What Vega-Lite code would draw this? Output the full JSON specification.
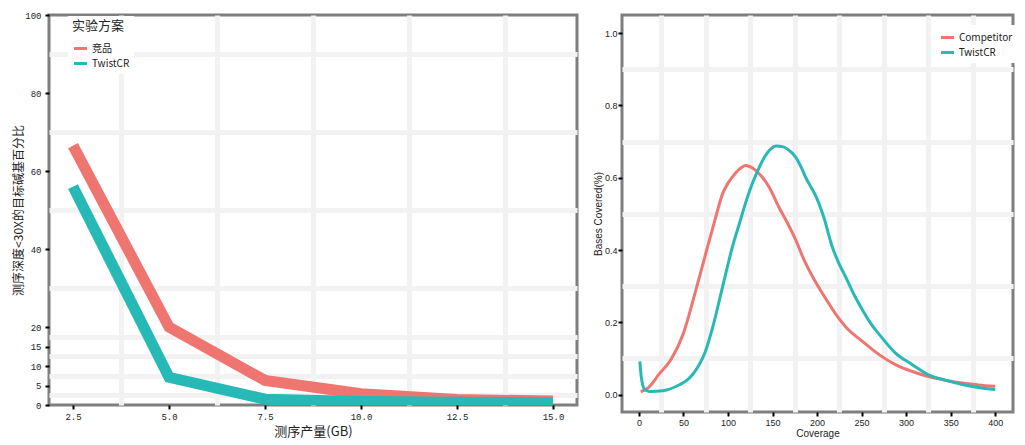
{
  "$schema": "https://vega.github.io/schema/vega-lite/v6.json",
  "padding": {"left": 10, "top": 9, "right": 5, "bottom": 5},
  "spacing": 12,
  "background": "white",
  "resolve": {"scale": {"color": "independent"}},
  "config": {
    "view": {"stroke": "#7f7f7f", "strokeWidth": 3},
    "axis": {"domain": false, "tickColor": "#000000", "tickSize": 4, "tickWidth": 2, "gridColor": "#d9d9d9", "gridWidth": 1, "labelColor": "#222222", "titleColor": "#222222", "titleFontWeight": "normal"}
  },
  "datasets": {
    "yield": [
      {"gb": 2.5, "pct": 66.5, "group": "竞品"},
      {"gb": 5.0, "pct": 20.0, "group": "竞品"},
      {"gb": 7.5, "pct": 6.3, "group": "竞品"},
      {"gb": 10.0, "pct": 2.9, "group": "竞品"},
      {"gb": 12.5, "pct": 1.4, "group": "竞品"},
      {"gb": 15.0, "pct": 1.0, "group": "竞品"},
      {"gb": 2.5, "pct": 56.0, "group": "TwistCR"},
      {"gb": 5.0, "pct": 7.1, "group": "TwistCR"},
      {"gb": 7.5, "pct": 1.5, "group": "TwistCR"},
      {"gb": 10.0, "pct": 0.9, "group": "TwistCR"},
      {"gb": 12.5, "pct": 0.7, "group": "TwistCR"},
      {"gb": 15.0, "pct": 0.6, "group": "TwistCR"}
    ],
    "coverage": [
      {"cov": 2, "frac": 0.008, "kit": "Competitor"},
      {"cov": 10, "frac": 0.018, "kit": "Competitor"},
      {"cov": 23, "frac": 0.058, "kit": "Competitor"},
      {"cov": 36, "frac": 0.097, "kit": "Competitor"},
      {"cov": 50, "frac": 0.17, "kit": "Competitor"},
      {"cov": 64, "frac": 0.29, "kit": "Competitor"},
      {"cov": 75, "frac": 0.39, "kit": "Competitor"},
      {"cov": 85, "frac": 0.48, "kit": "Competitor"},
      {"cov": 94, "frac": 0.556, "kit": "Competitor"},
      {"cov": 100, "frac": 0.585, "kit": "Competitor"},
      {"cov": 105, "frac": 0.602, "kit": "Competitor"},
      {"cov": 112, "frac": 0.622, "kit": "Competitor"},
      {"cov": 120, "frac": 0.634, "kit": "Competitor"},
      {"cov": 128, "frac": 0.626, "kit": "Competitor"},
      {"cov": 135, "frac": 0.611, "kit": "Competitor"},
      {"cov": 146, "frac": 0.575, "kit": "Competitor"},
      {"cov": 157, "frac": 0.519, "kit": "Competitor"},
      {"cov": 165, "frac": 0.483, "kit": "Competitor"},
      {"cov": 176, "frac": 0.428, "kit": "Competitor"},
      {"cov": 185, "frac": 0.375, "kit": "Competitor"},
      {"cov": 195, "frac": 0.326, "kit": "Competitor"},
      {"cov": 204, "frac": 0.288, "kit": "Competitor"},
      {"cov": 213, "frac": 0.253, "kit": "Competitor"},
      {"cov": 222, "frac": 0.219, "kit": "Competitor"},
      {"cov": 232, "frac": 0.188, "kit": "Competitor"},
      {"cov": 251, "frac": 0.147, "kit": "Competitor"},
      {"cov": 270, "frac": 0.11, "kit": "Competitor"},
      {"cov": 288, "frac": 0.083, "kit": "Competitor"},
      {"cov": 307, "frac": 0.064, "kit": "Competitor"},
      {"cov": 325, "frac": 0.05, "kit": "Competitor"},
      {"cov": 344, "frac": 0.04, "kit": "Competitor"},
      {"cov": 363, "frac": 0.032, "kit": "Competitor"},
      {"cov": 381, "frac": 0.027, "kit": "Competitor"},
      {"cov": 400, "frac": 0.023, "kit": "Competitor"},
      {"cov": 1, "frac": 0.092, "kit": "TwistCR"},
      {"cov": 2.6, "frac": 0.05, "kit": "TwistCR"},
      {"cov": 6.4, "frac": 0.014, "kit": "TwistCR"},
      {"cov": 12, "frac": 0.009, "kit": "TwistCR"},
      {"cov": 27, "frac": 0.011, "kit": "TwistCR"},
      {"cov": 46, "frac": 0.028, "kit": "TwistCR"},
      {"cov": 54, "frac": 0.04, "kit": "TwistCR"},
      {"cov": 60, "frac": 0.055, "kit": "TwistCR"},
      {"cov": 67, "frac": 0.08, "kit": "TwistCR"},
      {"cov": 74, "frac": 0.115, "kit": "TwistCR"},
      {"cov": 83, "frac": 0.188, "kit": "TwistCR"},
      {"cov": 94, "frac": 0.299, "kit": "TwistCR"},
      {"cov": 105, "frac": 0.409, "kit": "TwistCR"},
      {"cov": 114, "frac": 0.483, "kit": "TwistCR"},
      {"cov": 121, "frac": 0.54, "kit": "TwistCR"},
      {"cov": 128, "frac": 0.588, "kit": "TwistCR"},
      {"cov": 135, "frac": 0.628, "kit": "TwistCR"},
      {"cov": 141, "frac": 0.657, "kit": "TwistCR"},
      {"cov": 148, "frac": 0.68, "kit": "TwistCR"},
      {"cov": 154, "frac": 0.688, "kit": "TwistCR"},
      {"cov": 161, "frac": 0.686, "kit": "TwistCR"},
      {"cov": 167, "frac": 0.679, "kit": "TwistCR"},
      {"cov": 176, "frac": 0.657, "kit": "TwistCR"},
      {"cov": 182, "frac": 0.63, "kit": "TwistCR"},
      {"cov": 187, "frac": 0.602, "kit": "TwistCR"},
      {"cov": 193, "frac": 0.575, "kit": "TwistCR"},
      {"cov": 199, "frac": 0.547, "kit": "TwistCR"},
      {"cov": 208, "frac": 0.487, "kit": "TwistCR"},
      {"cov": 217, "frac": 0.409, "kit": "TwistCR"},
      {"cov": 224, "frac": 0.366, "kit": "TwistCR"},
      {"cov": 232, "frac": 0.326, "kit": "TwistCR"},
      {"cov": 241, "frac": 0.279, "kit": "TwistCR"},
      {"cov": 251, "frac": 0.234, "kit": "TwistCR"},
      {"cov": 260, "frac": 0.198, "kit": "TwistCR"},
      {"cov": 270, "frac": 0.166, "kit": "TwistCR"},
      {"cov": 288, "frac": 0.115, "kit": "TwistCR"},
      {"cov": 307, "frac": 0.083, "kit": "TwistCR"},
      {"cov": 325, "frac": 0.055, "kit": "TwistCR"},
      {"cov": 344, "frac": 0.04, "kit": "TwistCR"},
      {"cov": 363, "frac": 0.028, "kit": "TwistCR"},
      {"cov": 381, "frac": 0.02, "kit": "TwistCR"},
      {"cov": 400, "frac": 0.014, "kit": "TwistCR"}
    ]
  },
  "hconcat": [
    {
      "width": 528,
      "height": 390,
      "data": {"name": "yield"},
      "resolve": {"axis": {"x": "independent", "y": "independent"}},
      "layer": [
        {
          "mark": {"type": "point", "opacity": 0},
          "encoding": {
            "x": {"field": "gb", "type": "quantitative", "scale": {"domain": [1.875, 15.625], "nice": false, "zero": false}, "axis": {"orient": "bottom", "values": [3.75, 6.25, 8.75, 11.25, 13.75], "labels": false, "ticks": false, "title": null, "gridColor": "#f2f2f2", "gridWidth": 5}},
            "y": {"field": "pct", "type": "quantitative", "scale": {"domain": [0, 100], "nice": false}, "axis": {"orient": "left", "values": [2.5, 7.5, 12.5, 17.5, 30, 50, 70, 90], "labels": false, "ticks": false, "title": null, "gridColor": "#f2f2f2", "gridWidth": 5}}
          }
        },
        {
          "mark": {"type": "line", "strokeWidth": 11, "strokeCap": "butt", "clip": true},
          "encoding": {
            "x": {"field": "gb", "type": "quantitative", "axis": {"orient": "bottom", "values": [2.5, 5, 7.5, 10, 12.5, 15], "format": ".1f", "title": "测序产量(GB)", "labelFont": "Liberation Mono", "labelFontSize": 9, "labelPadding": 3, "titleFont": "Noto Sans CJK SC", "titleFontSize": 13, "titlePadding": 4}},
            "y": {"field": "pct", "type": "quantitative", "axis": {"orient": "left", "values": [0, 5, 10, 15, 20, 40, 60, 80, 100], "title": "测序深度<30X的目标碱基百分比", "labelFont": "Liberation Mono", "labelFontSize": 9, "labelPadding": 4, "minExtent": 20, "maxExtent": 20, "titleFont": "Noto Sans CJK SC", "titleFontSize": 12, "titlePadding": 4}},
            "color": {
              "field": "group", "type": "nominal",
              "scale": {"domain": ["竞品", "TwistCR"], "range": ["#EF7570", "#27B9B6"]},
              "legend": {"orient": "none", "legendX": 19, "legendY": 1, "title": "实验方案", "titleFont": "Noto Sans CJK SC", "titleFontSize": 13, "titleFontWeight": "normal", "titleColor": "#222222", "titlePadding": 7, "labelFont": "Noto Sans CJK SC", "labelFontSize": 10, "labelColor": "#222222", "labelOffset": 3, "symbolType": "stroke", "symbolStrokeWidth": 3, "symbolSize": 170, "fillColor": "white", "padding": 4, "rowPadding": 0}
            },
            "order": {"field": "gb", "type": "quantitative"}
          }
        }
      ]
    },
    {
      "width": 391,
      "height": 397,
      "data": {"name": "coverage"},
      "resolve": {"axis": {"x": "independent", "y": "independent"}},
      "layer": [
        {
          "mark": {"type": "point", "opacity": 0},
          "encoding": {
            "x": {"field": "cov", "type": "quantitative", "scale": {"domain": [-19, 420], "nice": false, "zero": false}, "axis": {"orient": "bottom", "values": [25, 75, 125, 175, 225, 275, 325, 375], "labels": false, "ticks": false, "title": null, "gridColor": "#f2f2f2", "gridWidth": 5}},
            "y": {"field": "frac", "type": "quantitative", "scale": {"domain": [-0.048, 1.05], "nice": false, "zero": false}, "axis": {"orient": "left", "values": [0.1, 0.3, 0.5, 0.7, 0.9], "labels": false, "ticks": false, "title": null, "gridColor": "#f2f2f2", "gridWidth": 5}}
          }
        },
        {
          "mark": {"type": "line", "strokeWidth": 3, "clip": true, "interpolate": "monotone"},
          "encoding": {
            "x": {"field": "cov", "type": "quantitative", "axis": {"orient": "bottom", "values": [0, 50, 100, 150, 200, 250, 300, 350, 400], "title": "Coverage", "labelFont": "Liberation Sans", "labelFontSize": 9, "labelPadding": 2, "titleFont": "Liberation Sans", "titleFontSize": 10, "titlePadding": 1}},
            "y": {"field": "frac", "type": "quantitative", "axis": {"orient": "left", "values": [0, 0.2, 0.4, 0.6, 0.8, 1.0], "format": ".1f", "title": "Bases Covered(%)", "labelFont": "Liberation Sans", "labelFontSize": 9, "labelPadding": 1, "minExtent": 18, "maxExtent": 18, "titleFont": "Liberation Sans", "titleFontSize": 10, "titlePadding": 1}},
            "color": {
              "field": "kit", "type": "nominal",
              "scale": {"domain": ["Competitor", "TwistCR"], "range": ["#EF7570", "#27B9B6"]},
              "legend": {"orient": "none", "legendX": 313, "legendY": 10, "title": null, "labelFont": "Noto Sans", "labelFontSize": 10, "labelColor": "#222222", "labelOffset": 3, "symbolType": "stroke", "symbolStrokeWidth": 3, "symbolSize": 170, "fillColor": "white", "padding": 4, "rowPadding": 0}
            },
            "order": {"field": "cov", "type": "quantitative"}
          }
        }
      ]
    }
  ]
}
